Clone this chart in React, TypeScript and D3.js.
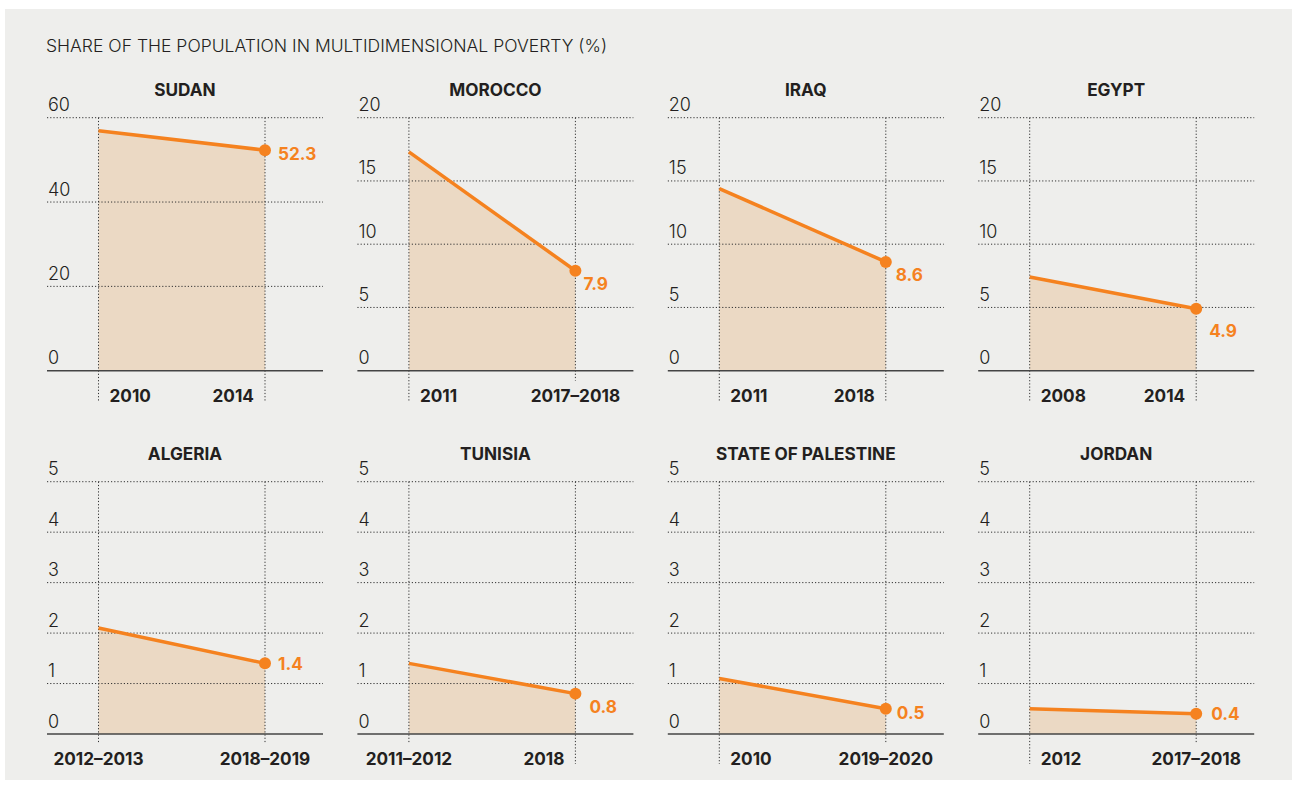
import React from "react";
import * as d3 from "d3";

// share of population in multidimensional poverty (%)
const countries = ["SUDAN", "MOROCCO", "IRAQ", "EGYPT", "ALGERIA", "TUNISIA", "STATE OF PALESTINE", "JORDAN"];
const startYears = ["2010", "2011", "2011", "2008", "2012–2013", "2011–2012", "2010", "2012"];
const endYears = ["2014", "2017–2018", "2018", "2014", "2018–2019", "2018", "2019–2020", "2017–2018"];
const startValues = [56.9, 17.3, 14.4, 7.4, 2.1, 1.4, 1.1, 0.5];
const endValues = [52.3, 7.9, 8.6, 4.9, 1.4, 0.8, 0.5, 0.4];
const axisMax = [60, 20, 20, 20, 5, 5, 5, 5];
const tickCounts = [3, 4, 4, 4, 5, 5, 5, 5];

// hand placement of the end value labels, as in the original
const labelNudge = [[13, 10], [8, 19], [10, 19], [13, 28], [13, 7], [14, 19], [11, 10], [15, 6]];

const W = 1296;
const H = 785;
const COL0 = 47;
const COL_STEP = 310.4;
const PANEL_W = 276;
const ROW_TOP = [117.7, 481.7];
const ROW_BASE = [370.7, 734];

const ORANGE = "#f5821f";
const FILL = "#ebd9c4";
const INK = "#231f20";
const FONT = "Inter, 'Open Sans', sans-serif";
const BOLD_SIZE = 17.2;

const Panel = ({ i }: { i: number }) => {
  const row = Math.floor(i / 4);
  const col = i % 4;
  const left = COL0 + col * COL_STEP;
  const top = ROW_TOP[row];
  const base = ROW_BASE[row];

  const y = d3.scaleLinear().domain([0, axisMax[i]]).range([base, top]);
  const x = d3
    .scalePoint<string>()
    .domain([startYears[i], endYears[i]])
    .range([left + 51.5, left + 218]);

  const pts: [string, number][] = [
    [startYears[i], startValues[i]],
    [endYears[i], endValues[i]],
  ];
  const line = d3
    .line<[string, number]>()
    .x((d) => x(d[0]) as number)
    .y((d) => y(d[1]));
  const area = d3
    .area<[string, number]>()
    .x((d) => x(d[0]) as number)
    .y0(base)
    .y1((d) => y(d[1]));

  const ticks = y.ticks(tickCounts[i]);
  const xs = [startYears[i], endYears[i]];
  const ex = x(endYears[i]) as number;
  const ey = y(endValues[i]);

  return (
    <g>
      <text
        x={left + PANEL_W / 2}
        y={top - 22}
        textAnchor="middle"
        fontWeight={700}
        fontSize={BOLD_SIZE}
        fill={INK}
      >
        {countries[i]}
      </text>
      <path d={area(pts) || ""} fill={FILL} />
      {ticks.map((t) => (
        <g key={t}>
          {t > 0 && (
            <line
              x1={left}
              x2={left + PANEL_W}
              y1={y(t)}
              y2={y(t)}
              stroke="#333"
              strokeWidth={1}
              strokeDasharray="1.2,2"
            />
          )}
          <text x={left + 1} y={y(t) - 6.5} fontSize={18} fontWeight={300} fill={INK}>
            {t}
          </text>
        </g>
      ))}
      {xs.map((lab, k) => {
        const px = x(lab) as number;
        const range = lab.includes("–");
        return (
          <g key={lab + k}>
            <line
              x1={px}
              x2={px}
              y1={top}
              y2={base + (range ? 10 : 30)}
              stroke="#333"
              strokeWidth={1}
              strokeDasharray="1.2,2"
            />
            <text
              x={range ? px : k === 0 ? px + 11 : px - 11}
              y={base + 31}
              textAnchor={range ? "middle" : k === 0 ? "start" : "end"}
              fontWeight={700}
              fontSize={BOLD_SIZE}
              fill={INK}
            >
              {lab}
            </text>
          </g>
        );
      })}
      <line x1={left} x2={left + PANEL_W} y1={base} y2={base} stroke="#444" strokeWidth={1.6} />
      <path d={line(pts) || ""} fill="none" stroke={ORANGE} strokeWidth={3.5} />
      <circle cx={ex} cy={ey} r={6} fill={ORANGE} />
      <text
        x={ex + labelNudge[i][0]}
        y={ey + labelNudge[i][1]}
        fontWeight={700}
        fontSize={BOLD_SIZE}
        fill={ORANGE}
      >
        {endValues[i]}
      </text>
    </g>
  );
};

export default function App() {
  return (
    <svg
      width={W}
      height={H}
      style={{ position: "absolute", left: 0, top: 0, fontFamily: FONT }}
    >
      <rect x={0} y={0} width={W} height={H} fill="#ffffff" />
      <rect x={5} y={9} width={1287} height={771} fill="#eeeeec" />
      <text
        x={46}
        y={52}
        fontSize={17}
        fontWeight={300}
        fill={INK}
        textLength={561}
        lengthAdjust="spacingAndGlyphs"
      >
        SHARE OF THE POPULATION IN MULTIDIMENSIONAL POVERTY (%)
      </text>
      {countries.map((_, i) => (
        <Panel key={i} i={i} />
      ))}
    </svg>
  );
}
